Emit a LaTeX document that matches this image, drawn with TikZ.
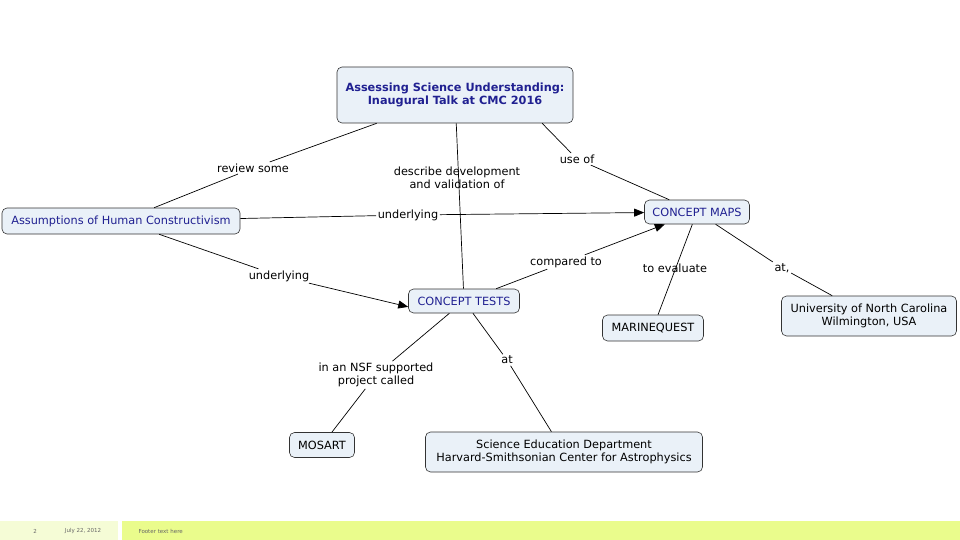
\documentclass[tikz,border=0pt]{standalone}
\usepackage{fontspec}
\setmainfont{DejaVu Sans}
\usepackage{tikz}
\usetikzlibrary{arrows.meta, positioning}
\definecolor{cmapblue}{RGB}{32,32,145}
\definecolor{cmapfill}{RGB}{234,241,248}
\definecolor{footpale}{RGB}{245,252,214}
\definecolor{footlime}{RGB}{234,252,140}
\begin{document}
\begin{tikzpicture}[x=1pt, y=-1pt,
  concept/.style={draw=black!80, fill=cmapfill, rounded corners=5pt, semithick, align=center,
    font=\fontsize{11.3}{13.5}\selectfont, inner xsep=6pt, inner ysep=3pt},
  keyconcept/.style={concept, text=cmapblue},
  linklabel/.style={align=center, font=\fontsize{11.3}{13.5}\selectfont, inner sep=1.5pt},
  link/.style={draw=black, line width=0.7pt},
  arrowlink/.style={link, -{Triangle[length=10pt, width=8pt]}}]
  \useasboundingbox (0,0) rectangle (960,540);
  % concepts
  \node[keyconcept, font=\bfseries\fontsize{11.3}{13.5}\selectfont, minimum width=236, minimum height=56] (title) at (455,95)
    {Assessing Science Understanding:\\Inaugural Talk at CMC 2016};
  \node[keyconcept, minimum width=238, minimum height=26] (assump) at (121,221) {Assumptions of Human Constructivism};
  \node[keyconcept, minimum width=105, minimum height=24] (maps) at (697,212) {CONCEPT MAPS};
  \node[keyconcept, minimum width=111, minimum height=24] (tests) at (464,301) {CONCEPT TESTS};
  \node[concept, minimum width=101, minimum height=26] (marine) at (653,328) {MARINEQUEST};
  \node[concept, minimum width=175, minimum height=40] (unc) at (869,316) {University of North Carolina\\Wilmington, USA};
  \node[concept, minimum width=65, minimum height=25] (mosart) at (322,445) {MOSART};
  \node[concept, minimum width=277, minimum height=40] (sed) at (564,452)
    {Science Education Department\\Harvard-Smithsonian Center for Astrophysics};
  % linking phrases
  \node[linklabel] (review) at (253,168) {review some};
  \node[linklabel] (describe) at (457,178) {describe development\\and validation of};
  \node[linklabel] (useof) at (577,159) {use of};
  \node[linklabel] (under1) at (408,215) {underlying};
  \node[linklabel] (under2) at (279,276) {underlying};
  \node[linklabel] (compared) at (566,262) {compared to};
  \node[linklabel] (evaluate) at (675,268) {to evaluate};
  \node[linklabel] (atunc) at (782,268) {at,};
  \node[linklabel] (nsf) at (376,375) {in an NSF supported\\project called};
  \node[linklabel] (atsed) at (507,360) {at};
  % connectors
  \draw[link] (title) -- (review) -- (assump);
  \draw[link] (title) -- (tests);
  \draw[link] (title.-18) -- (useof) -- (maps);
  \draw[link] (assump) -- (under1);
  \draw[arrowlink] (under1) -- (maps);
  \draw[link] (assump) -- (under2);
  \draw[arrowlink] (under2) -- (tests.186);
  \draw[link] (tests) -- (compared);
  \draw[arrowlink] (compared) -- (maps);
  \draw[link] (maps) -- (marine);
  \draw[link] (maps) -- (atunc) -- (unc);
  \draw[link] (tests) -- (nsf) -- (mosart);
  \draw[link] (tests) -- (atsed) -- (sed);
  % footer
  \fill[footpale] (0,521) rectangle (118,540);
  \fill[footlime] (122,521) rectangle (960,540);
  \node[font=\fontsize{5.5}{6.5}\selectfont, text=black!60] (pagenum) at (35,531) {2};
  \node[font=\fontsize{5.5}{6.5}\selectfont, text=black!60] (date) at (83,531) {July 22, 2012};
  \node[font=\fontsize{5.5}{6.5}\selectfont, text=black!60, anchor=west] (foot) at (135,531) {Footer text here};
\end{tikzpicture}
\end{document}
